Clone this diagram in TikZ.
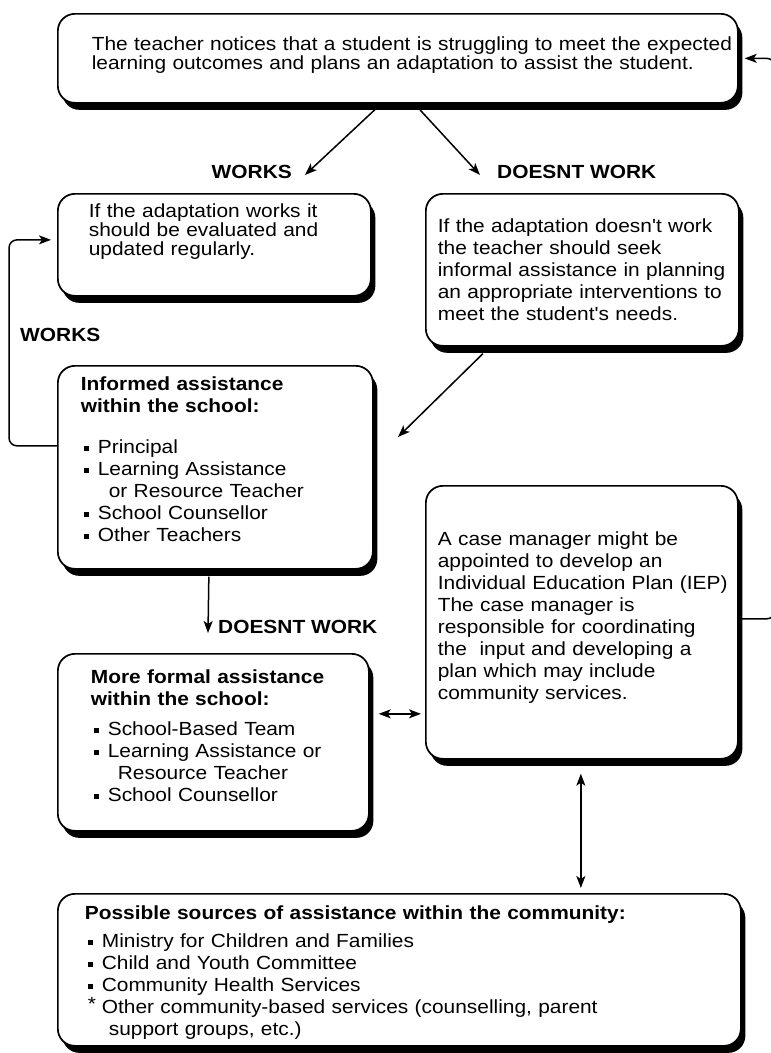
\documentclass[tikz,border=0pt]{standalone}
\usepackage{fontspec}
\newfontfamily\gen[FakeStretch=1.1]{Liberation Sans}
\usetikzlibrary{positioning, arrows.meta, shadows}
\tikzset{
    >={Stealth[length=12pt, width=9pt, inset=3pt]}, % arrow heads of all connectors
    x=1pt, y=-1pt, % one unit is one pixel of the page, y runs down
    every node/.style={font=\gen\fontsize{19}{22}\selectfont}, % text of all boxes
}
\newcommand{\bul}{\hspace*{3pt}\makebox[14pt][l]{\rule[2.5pt]{5pt}{5pt}}}

\begin{document}
\begin{tikzpicture}[
    box/.style={draw, line width=1.7pt, rounded corners=17pt, fill=white,
        drop shadow={shadow xshift=4.5pt, shadow yshift=-7pt, fill=black, opacity=1},
        anchor=north west, align=left, inner sep=0pt},
    pad/.style={execute at begin node={\leftskip=#1\rightskip=-40pt plus 1fil\relax}},
    tight/.style={font=\gen\fontsize{19}{19}\selectfont},
    lbl/.style={font=\gen\bfseries\fontsize{19}{22}\selectfont, inner sep=0pt},
    link/.style={line width=1.5pt},
]
\useasboundingbox (0,0) rectangle (771,1053);

\node[box, tight, pad=34pt, text width=680pt, text height=37pt, text depth=52pt] (teacher) at (57,13)
    {The teacher notices that a student is struggling to meet the expected\\
     learning outcomes and plans an adaptation to assist the student.};
\node[box, tight, pad=31pt, text width=313pt, text height=24pt, text depth=78pt] (works) at (57,193)
    {If the adaptation works it\\ should be evaluated and\\ updated regularly.};
\node[box, pad=12pt, text width=313pt, text height=39pt, text depth=113pt] (doesnt) at (425,193)
    {If the adaptation doesn't work\\ the teacher should seek\\ informal assistance in planning\\
     an appropriate interventions to\\ meet the student's needs.};
\node[box, pad=23pt, text width=315pt, text height=25pt, text depth=178pt] (informed) at (57,365)
    {{\bfseries Informed assistance\\ within the school:}\\[19pt]
     \bul Principal\\ \bul Learning Assistance\\ \hspace*{28pt}or Resource Teacher\\
     \bul School Counsellor\\ \bul Other Teachers};
\node[box, pad=12pt, text width=312pt, text height=60pt, text depth=213pt] (casemgr) at (425,485)
    {A case manager might be\\ appointed to develop an\\ Individual Education Plan (IEP)\\
     The case manager is\\ responsible for coordinating\\ the~ input and developing a\\
     plan which may include\\ community services.};
\node[box, pad=33pt, text width=311pt, text height=30pt, text depth=147pt] (formal) at (57,653)
    {{\bfseries More formal assistance\\ within the school:}\\[8pt]
     \bul School-Based Team\\ \bul Learning Assistance or\\ \hspace*{27pt}Resource Teacher\\
     \bul School Counsellor};
\node[box, pad=27pt, text width=683pt, text height=26pt, text depth=126pt] (community) at (57,893)
    {{\bfseries Possible sources of assistance within the community:}\\[6pt]
     \bul Ministry for Children and Families\\ \bul Child and Youth Committee\\
     \bul Community Health Services\\
     \hspace*{3pt}\makebox[14pt][l]{\raisebox{3pt}{*}}Other community-based services (counselling, parent\\
     \hspace*{24pt}support groups, etc.)};

\node[lbl, anchor=east] (lworks) at (292,172) {WORKS};
\node[lbl, anchor=west] (ldoesnt) at (497,172) {DOESNT WORK};
\node[lbl, anchor=west] (lworksback) at (20,335) {WORKS};
\node[lbl, anchor=west] (ldoesntdown) at (218,627) {DOESNT WORK};

\coordinate (toinformed) at (398,437);
\coordinate (mid) at ([xshift=9pt, yshift=28.5pt]formal.east);
\coordinate (down) at (casemgr.south |- community.north);

\draw[link, ->] ([xshift=-23pt, yshift=-6pt]teacher.south) -- ([xshift=13pt, yshift=-3pt]lworks.east);
\draw[link, ->] ([xshift=22pt, yshift=-6pt]teacher.south) -- ([xshift=-17pt, yshift=-3pt]ldoesnt.west);
\draw[link, ->] ([xshift=-99.5pt, yshift=-7pt]doesnt.south) -- (toinformed);
\draw[link, ->, rounded corners=8pt] ([yshift=21.5pt]informed.west) -- ++(-48,0)
    |- ([xshift=-6pt, yshift=5pt]works.west);
\draw[link, ->] ([xshift=-6.5pt, yshift=-7pt]informed.south) -- ([xshift=-10pt, yshift=-6pt]ldoesntdown.west);
\draw[link, <->] (mid) -- ([xshift=-4pt]mid -| casemgr.west);
\draw[link, <->] ([xshift=-1pt, yshift=-14pt]casemgr.south) -- ([xshift=-1pt, yshift=5pt]down);
\draw[link, ->, rounded corners=8pt] ([yshift=3.5pt]casemgr.east) -- ++(36,0)
    |- ([xshift=6pt]teacher.east);
\end{tikzpicture}
\end{document}
